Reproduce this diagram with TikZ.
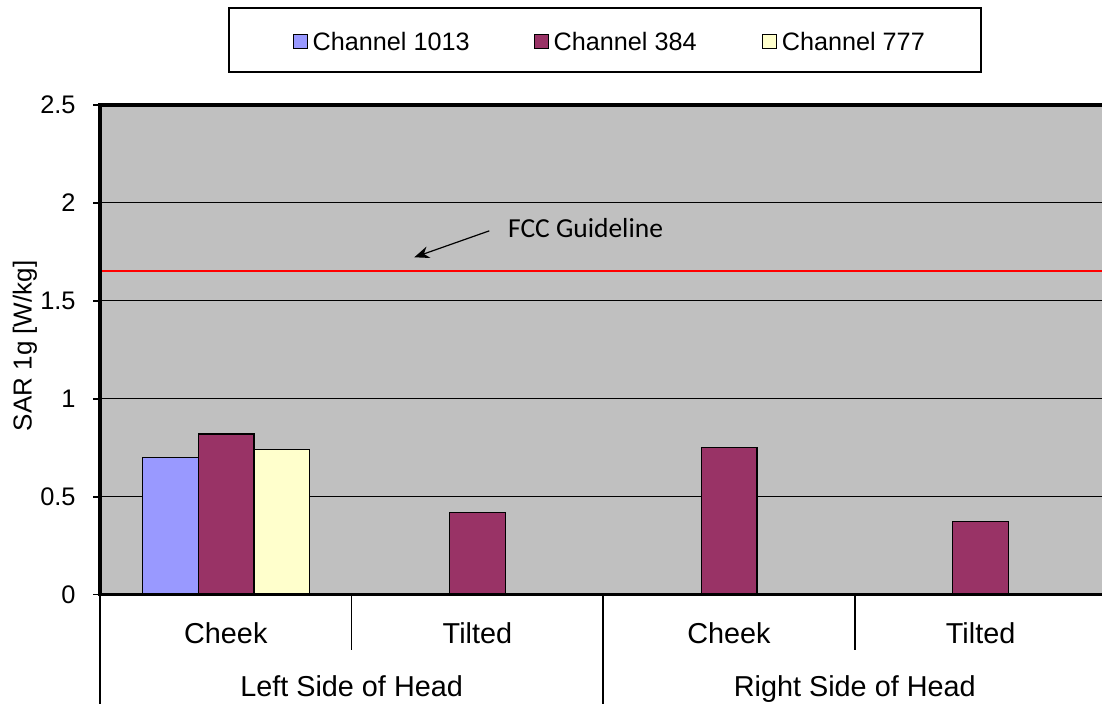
\documentclass[tikz,border=0pt]{standalone}
\usepackage{fontspec}
\setmainfont{Liberation Sans}
\newfontfamily\calibrifont{Carlito}
\usetikzlibrary{positioning,arrows.meta}
\definecolor{chA}{HTML}{9999FF}
\definecolor{chB}{HTML}{993366}
\definecolor{chC}{HTML}{FFFFCC}
\definecolor{plotgray}{HTML}{C0C0C0}
\tikzset{
	bar/.style={draw=black,line width=0.6pt},
	gridline/.style={line width=0.6pt},
	frame/.style={line width=1.6pt},
	sep/.style={line width=0.8pt},
	ticklab/.style={anchor=east,inner sep=0pt,font=\fontsize{12.7}{15}\selectfont},
	catlab/.style={anchor=base,inner sep=0pt,font=\fontsize{14.4}{17}\selectfont},
	swatch/.style={draw=black,line width=0.6pt,minimum size=7pt,inner sep=0pt},
	legtext/.style={inner sep=0pt,font=\fontsize{12.6}{15}\selectfont}
}

\begin{document}
\begin{tikzpicture}[x=0.5pt,y=0.5pt]
	\useasboundingbox (-100,-109.3) rectangle (1002,594.7);
	% plot area
	\fill[plotgray] (0,0) rectangle (1002,489.75);
	\foreach \v in {0.5,1,1.5,2} \draw[gridline] (0,\v*195.9)--(1002,\v*195.9);
	\draw[red,line width=0.85pt] (0,323.4)--(1002,323.4);
	\foreach \x/\v/\c in {42.3/0.70/chA,98.1/0.82/chB,153.9/0.74/chC,349.5/0.42/chB,601.1/0.75/chB,852.7/0.375/chB}
		\draw[bar,fill=\c] (\x,0) rectangle ++(55.8,\v*195.9);
	\draw[frame] (1002,489.75)--(0,489.75)--(0,0)--(1002,0);
	\foreach \v [count=\i] in {0,0.5,1,1.5,2,2.5}{
		\draw[sep] (-6.7,\v*195.9)--(0,\v*195.9);
		\node[ticklab] (tick\i) at (-24,\v*195.9) {\v};
	}
	\node[rotate=90,font=\fontsize{13}{15}\selectfont] (ylab) at (-75,248.9) {SAR 1g [W/kg]};
	% FCC guideline label
	\node[anchor=base west,inner sep=0pt,font=\calibrifont\fontsize{13.75}{16}\selectfont] (fcc) at (407.7,357.4) {FCC Guideline};
	\coordinate (fccTip) at (314.3,337.4);
	\draw[-{Stealth[length=7.5pt,width=6pt]},line width=0.6pt] ([shift={(-18.4,-3)}]fcc.west)--(fccTip);
	% category axis
	\foreach \x/\y in {0/-109.3,251.6/-55.3,503.2/-109.3,754.8/-55.3} \draw[sep] (\x,0)--(\x,\y);
	\foreach \x/\t [count=\i] in {125.8/Cheek,377.4/Tilted,629/Cheek,880.6/Tilted}
		\node[catlab] (cat\i) at (\x,-48.6) {\t};
	\node[catlab] (leftside) at (251.6,-102) {Left Side of Head};
	\node[catlab] (rightside) at (754.8,-102) {Right Side of Head};
	% legend
	\node[draw,line width=0.8pt,minimum width=376pt,minimum height=32pt,inner sep=0pt] (legend) at (505,554.7) {};
	\node[swatch,fill=chA] (sw1) at (200.3,553) {};
	\node[legtext,right=2.2pt of sw1] (lt1) {Channel 1013};
	\node[swatch,fill=chB] (sw2) at (441.3,553) {};
	\node[legtext,right=2.2pt of sw2] (lt2) {Channel 384};
	\node[swatch,fill=chC] (sw3) at (669.5,553) {};
	\node[legtext,right=2.2pt of sw3] (lt3) {Channel 777};
\end{tikzpicture}
\end{document}
